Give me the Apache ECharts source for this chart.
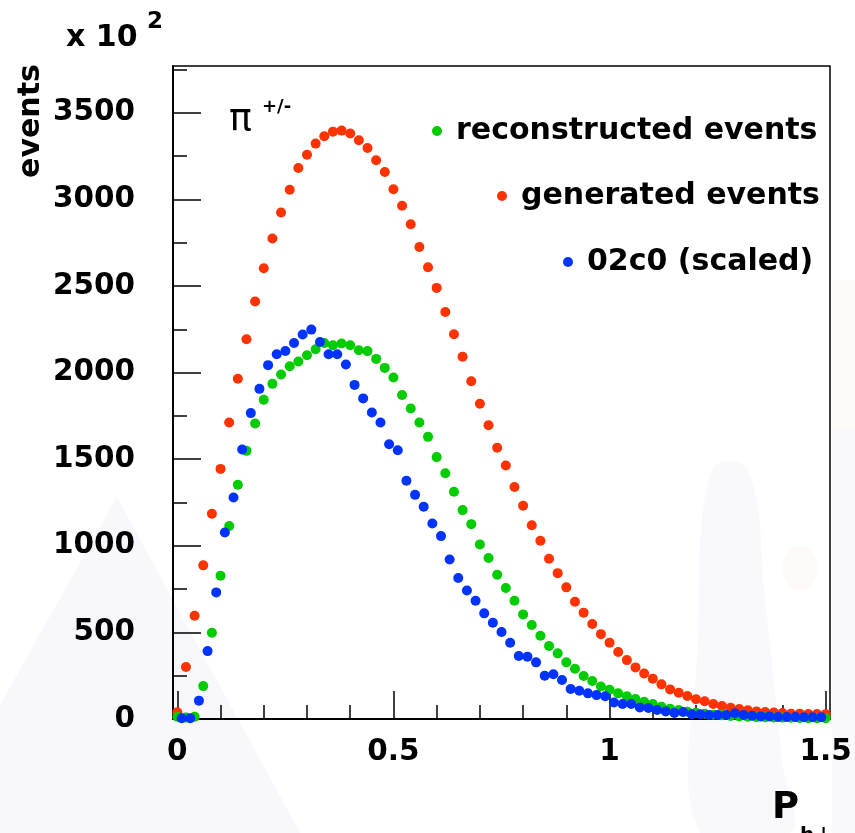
<!DOCTYPE html>
<html><head><meta charset="utf-8">
<script src="https://cdn.jsdelivr.net/npm/echarts@6/dist/echarts.min.js"></script>
<style>html,body{margin:0;padding:0;background:#fff}#c{width:855px;height:833px}</style>
</head><body><div id="c"></div>
<script>
// Bin centres (P_h-perp)
const xEven = [0,0.02,0.04,0.06,0.08,0.1,0.12,0.14,0.16,0.18,0.2,0.22,0.24,0.26,0.28,0.3,0.32,0.34,0.36,0.38,0.4,0.42,0.44,0.46,0.48,0.5,0.52,0.54,0.56,0.58,0.6,0.62,0.64,0.66,0.68,0.7,0.72,0.74,0.76,0.78,0.8,0.82,0.84,0.86,0.88,0.9,0.92,0.94,0.96,0.98,1,1.02,1.04,1.06,1.08,1.1,1.12,1.14,1.16,1.18,1.2,1.22,1.24,1.26,1.28,1.3,1.32,1.34,1.36,1.38,1.4,1.42,1.44,1.46,1.48,1.5];
const xOdd = [0.01,0.03,0.05,0.07,0.09,0.11,0.13,0.15,0.17,0.19,0.21,0.23,0.25,0.27,0.29,0.31,0.33,0.35,0.37,0.39,0.41,0.43,0.45,0.47,0.49,0.51,0.53,0.55,0.57,0.59,0.61,0.63,0.65,0.67,0.69,0.71,0.73,0.75,0.77,0.79,0.81,0.83,0.85,0.87,0.89,0.91,0.93,0.95,0.97,0.99,1.01,1.03,1.05,1.07,1.09,1.11,1.13,1.15,1.17,1.19,1.21,1.23,1.25,1.27,1.29,1.31,1.33,1.35,1.37,1.39,1.41,1.43,1.45,1.47,1.49];

const generated = [39,300,596,887,1185,1444,1712,1964,2192,2410,2602,2774,2924,3056,3181,3258,3322,3364,3391,3397,3380,3341,3297,3226,3158,3058,2963,2856,2725,2608,2489,2350,2221,2091,1950,1820,1696,1566,1464,1339,1231,1119,1029,925,842,760,677,614,548,490,440,387,340,298,263,233,200,171,152,133,114,102,87,75,65,58,50,44,40,37,35,31,31,29,29,28];
const reconstructed = [13,8,13,190,498,827,1114,1352,1548,1706,1843,1935,1989,2037,2064,2100,2135,2171,2158,2168,2158,2129,2124,2079,2027,1972,1871,1793,1712,1629,1512,1419,1312,1206,1125,1008,929,833,756,683,604,543,481,421,379,327,290,248,219,188,169,148,131,115,100,87,71,59,52,42,36,30,25,21,18,15,13,11,10,9,8,7,6,5,5,4];
const scaled02c0 = [4,4,106,392,731,1077,1279,1556,1766,1906,2043,2106,2125,2171,2220,2248,2177,2106,2106,2047,1929,1851,1770,1712,1586,1552,1376,1294,1225,1129,1056,921,814,742,683,610,556,502,440,364,360,327,250,258,225,173,163,148,138,131,95,87,87,67,63,52,44,35,40,27,27,23,23,23,33,23,19,15,15,12,12,12,10,10,10];

const xMajor = [0,0.5,1,1.5];
const xMinor = [0.1,0.2,0.3,0.4,0.6,0.7,0.8,0.9,1.1,1.2,1.3,1.4];
const yMajor = [0,500,1000,1500,2000,2500,3000,3500];
const yMinor = [250,750,1250,1750,2250,2750,3250,3750];

const names = ['reconstructed events','generated events','02c0 (scaled)'];
const colors = {green:'#00cc00', red:'#ff3300', blue:'#0033ff'};

const FONT = 'DejaVu Sans';
const zip = (xs, ys) => xs.map((x,i)=>[x, ys[i]]);

const chart = echarts.init(document.getElementById('c'), null, {renderer:'canvas'});

const tickStyle = {color:'#000', width:1.5};
const labelStyle = {fontFamily:FONT, fontWeight:'bold', fontSize:29.5, color:'#000'};

function legendAt(name, left, top){
  return {
    data:[name], left:left, top:top, padding:0, orient:'horizontal',
    icon:'circle', itemWidth:28, itemHeight:10, selectedMode:false,
    textStyle:{fontFamily:FONT, fontWeight:'bold', fontSize:30, color:'#000', lineHeight:30}
  };
}

const option = {
  animation:false,
  backgroundColor:'#ffffff',
  grid:{left:173, right:25, top:66, bottom:114, show:true, borderColor:'#000', borderWidth:1.5, backgroundColor:'transparent', containLabel:false},
  xAxis:[
    {type:'value', min:-0.01, max:1.51, position:'bottom',
     axisLine:{show:true, onZero:false, lineStyle:{color:'#000', width:2}},
     axisTick:{show:true, inside:true, length:28, customValues:xMajor, lineStyle:tickStyle},
     axisLabel:Object.assign({show:true, customValues:xMajor, margin:18, formatter:v=>String(v)}, labelStyle),
     splitLine:{show:false}},
    {type:'value', min:-0.01, max:1.51, position:'bottom',
     axisLine:{show:false, onZero:false},
     axisTick:{show:true, inside:true, length:14, customValues:xMinor, lineStyle:tickStyle},
     axisLabel:{show:false}, splitLine:{show:false}}
  ],
  yAxis:[
    {type:'value', min:0, max:3770, position:'left',
     axisLine:{show:true, onZero:false, lineStyle:{color:'#000', width:2}},
     axisTick:{show:true, inside:true, length:28, customValues:yMajor, lineStyle:tickStyle},
     axisLabel:Object.assign({show:true, customValues:yMajor, margin:38, formatter:v=>String(v)}, labelStyle),
     splitLine:{show:false}},
    {type:'value', min:0, max:3770, position:'left',
     axisLine:{show:false, onZero:false},
     axisTick:{show:true, inside:true, length:14, customValues:yMinor, lineStyle:tickStyle},
     axisLabel:{show:false}, splitLine:{show:false}}
  ],
  legend:[
    legendAt(names[0], 432, 116),
    legendAt(names[1], 497, 181),
    legendAt(names[2], 563, 247)
  ],
  series:[
    {name:names[1], type:'scatter', xAxisIndex:0, yAxisIndex:0, symbol:'circle', symbolSize:10,
     itemStyle:{color:colors.red, opacity:1}, data:zip(xEven, generated), z:3},
    {name:names[0], type:'scatter', xAxisIndex:0, yAxisIndex:0, symbol:'circle', symbolSize:10,
     itemStyle:{color:colors.green, opacity:1}, data:zip(xEven, reconstructed), z:4},
    {name:names[2], type:'scatter', xAxisIndex:0, yAxisIndex:0, symbol:'circle', symbolSize:10,
     itemStyle:{color:colors.blue, opacity:1}, data:zip(xOdd, scaled02c0), z:5}
  ],
  graphic:[
    // faint watermark shapes
    {type:'polygon', silent:true, z:-10, shape:{points:[[117,497],[300,833],[0,833],[0,705]]}, style:{fill:'#f7f7fc'}},
    {type:'polygon', silent:true, z:-10, shape:{smooth:0.4, points:[[712,470],[748,470],[765,600],[782,760],[790,833],[700,833],[698,640]]}, style:{fill:'#f9f9fd'}},
    {type:'rect', silent:true, z:-10, shape:{x:832, y:430, width:23, height:403}, style:{fill:'#f9f9fd'}},
    {type:'rect', silent:true, z:-10, shape:{x:832, y:280, width:23, height:150}, style:{fill:'#fefaf8'}},
    {type:'ellipse', silent:true, z:-10, shape:{cx:800, cy:568, rx:17, ry:22}, style:{fill:'#fefaf8'}},
    // y-axis multiplier
    {type:'text', x:66, y:38, style:{text:'x 10', fontFamily:FONT, fontWeight:'bold', fontSize:30, fill:'#000', textAlign:'left', textVerticalAlign:'middle'}},
    {type:'text', x:147, y:22, style:{text:'2', fontFamily:FONT, fontWeight:'bold', fontSize:23, fill:'#000', textAlign:'left', textVerticalAlign:'middle'}},
    // y-axis title
    {type:'text', x:31, y:121, rotation:Math.PI/2, style:{text:'events', fontFamily:FONT, fontWeight:'bold', fontSize:30, fill:'#000', textAlign:'center', textVerticalAlign:'middle'}},
    // particle label
    {type:'text', x:229, y:120, style:{text:'\u03C0', fontFamily:FONT, fontWeight:'normal', fontSize:38, fill:'#000', textAlign:'left', textVerticalAlign:'middle'}},
    {type:'text', x:262, y:107, style:{text:'+/-', fontFamily:FONT, fontWeight:'bold', fontSize:18, fill:'#000', textAlign:'left', textVerticalAlign:'middle'}},
    // x-axis title
    {type:'text', x:772, y:808, style:{text:'P', fontFamily:FONT, fontWeight:'bold', fontSize:37, fill:'#000', textAlign:'left', textVerticalAlign:'middle'}},
    {type:'text', x:800, y:836, style:{text:'h\u22A5', fontFamily:FONT, fontWeight:'bold', fontSize:20, fill:'#000', textAlign:'left', textVerticalAlign:'middle'}}
  ]
};
chart.setOption(option);
</script>
</body></html>
